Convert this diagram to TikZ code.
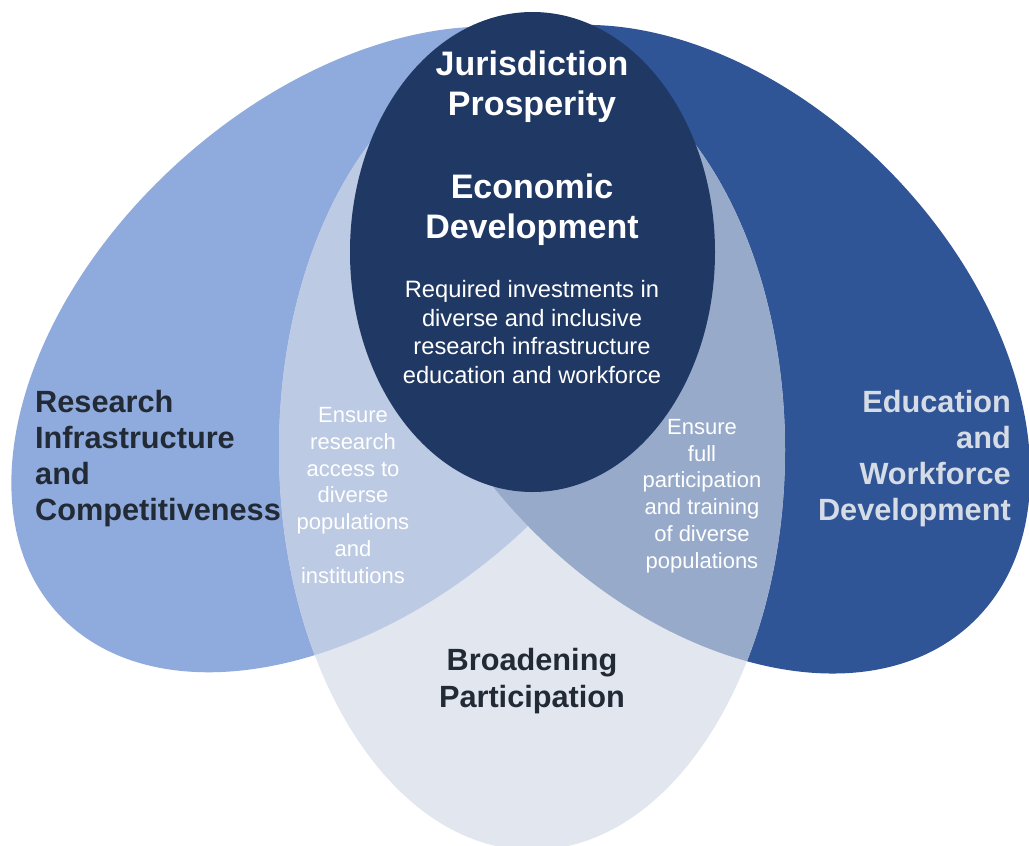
\documentclass[tikz,border=0pt]{standalone}
\usepackage{fontspec}
\setmainfont{Liberation Sans}
\definecolor{lblue}{HTML}{8FAADC}
\definecolor{dblue}{HTML}{2F5597}
\definecolor{navy}{HTML}{203864}
\definecolor{bpgrey}{HTML}{E2E6EF}
\definecolor{lmix}{HTML}{BCCAE3}
\definecolor{rmix}{HTML}{98AACA}
\definecolor{darktext}{HTML}{222A35}
\definecolor{lighttext}{HTML}{D6DCE5}
\newcommand\LeftShape{[shift={(347.6,349.4)}, rotate=42.2] (0,0) ellipse [x radius=392pt, y radius=252.2pt]}
\newcommand\RightShape{[shift={(709.4,349.2)}, rotate=134.2] (0,0) ellipse [x radius=379.4pt, y radius=253.3pt]}
\newcommand\BottomShape{(532,450) ellipse [x radius=253pt, y radius=400pt]}
\begin{document}
\begin{tikzpicture}[x=1pt,y=-1pt,
  titletext/.style={font=\fontsize{34}{40}\selectfont\bfseries, text=white, align=center, inner sep=0pt, anchor=base},
  bodytext/.style={font=\fontsize{23.7}{28.4}\selectfont, text=white, align=center, inner sep=0pt, anchor=base},
  labeltext/.style={font=\fontsize{30.7}{35.7}\selectfont\bfseries, inner sep=0pt},
  smalltext/.style={font=\fontsize{22}{26.7}\selectfont, text=white, align=center, inner sep=0pt, anchor=base}]
\useasboundingbox (0,0) rectangle (1029,846);
\fill[white] (0,0) rectangle (1029,846);
\begin{scope}
  \fill[lblue] \LeftShape;
\end{scope}
\begin{scope}
  \fill[dblue] \RightShape;
\end{scope}
\fill[bpgrey] \BottomShape;
\begin{scope}
  \clip \BottomShape;
  \begin{scope}
    \fill[lmix] \LeftShape;
  \end{scope}
  \begin{scope}
    \fill[rmix] \RightShape;
  \end{scope}
\end{scope}
\fill[navy] (532.5,252) ellipse [x radius=182.5pt, y radius=240pt];
\node[titletext] (jp) at (532,115) {Jurisdiction\\Prosperity};
\node[titletext] (ed) at (532,238) {Economic\\Development};
\node[bodytext] (req) at (532,383) {Required investments in\\diverse and inclusive\\research infrastructure\\education and workforce};
\node[labeltext, text=darktext, align=left, anchor=base west] (ric) at (35,520) {Research\\Infrastructure\\and\\Competitiveness};
\node[labeltext, text=lighttext, align=right, anchor=base east] (ewd) at (1011,520) {Education\\and\\Workforce\\Development};
\node[labeltext, text=darktext, align=center, anchor=base, font=\fontsize{30.7}{37}\selectfont\bfseries] (bp) at (532,707) {Broadening\\Participation};
\node[smalltext] (er) at (353,583) {Ensure\\research\\access to\\diverse\\populations\\and\\institutions};
\node[smalltext] (ef) at (702,568) {Ensure\\full\\participation\\and training\\of diverse\\populations};
\end{tikzpicture}
\end{document}
